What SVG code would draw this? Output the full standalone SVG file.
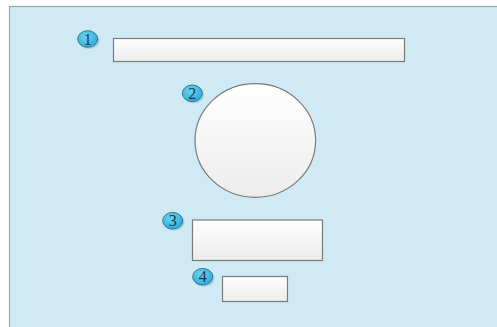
<svg xmlns="http://www.w3.org/2000/svg" width="497" height="327" viewBox="0 0 497 327">
<defs>
<linearGradient id="g" x1="0" y1="0" x2="0" y2="1">
<stop offset="0" stop-color="#ffffff"/>
<stop offset="1" stop-color="#ececec"/>
</linearGradient>
<radialGradient id="b" cx="0.4" cy="0.35" r="0.7">
<stop offset="0" stop-color="#6ad4f2"/>
<stop offset="1" stop-color="#2eaad8"/>
</radialGradient>
</defs>
<style>
.shape{fill:url(#g);stroke:#7a7a7a;stroke-width:1.2}
.badge{fill:url(#b);stroke:#2a6f8a;stroke-width:0.9}
.shadow{fill:#8fb8c8;opacity:0.6}
.num{font-family:"Liberation Serif",serif;font-size:16px;fill:#173547;text-anchor:middle}
</style>
<rect x="0" y="0" width="497" height="327" fill="#ffffff"/>
<rect x="9.5" y="6.5" width="490" height="325" fill="#cfeaf4" stroke="#9aa6ab" stroke-width="1.2"/>
<g id="connectors"/>
<g id="node1">
<rect class="shape" x="113.5" y="38.5" width="291" height="23"/>
<ellipse class="shadow" cx="89" cy="40.5" rx="10.5" ry="8.5"/>
<ellipse class="badge" cx="87.7" cy="39" rx="10" ry="8.3"/>
<text class="num" x="87.7" y="44.5">1</text>
</g>
<g id="node2">
<ellipse class="shape" cx="255.3" cy="140.5" rx="60.3" ry="56.8"/>
<ellipse class="shadow" cx="193.6" cy="94.8" rx="10.5" ry="8.5"/>
<ellipse class="badge" cx="192.3" cy="93.3" rx="10" ry="8.3"/>
<text class="num" x="192.3" y="98.8">2</text>
</g>
<g id="node3">
<rect class="shape" x="192.5" y="220" width="130" height="40.5"/>
<ellipse class="shadow" cx="174" cy="222.2" rx="10.5" ry="8.5"/>
<ellipse class="badge" cx="172.7" cy="220.7" rx="10" ry="8.3"/>
<text class="num" x="172.7" y="226.2">3</text>
</g>
<g id="node4">
<rect class="shape" x="222.5" y="276.5" width="65" height="25"/>
<ellipse class="shadow" cx="204" cy="278.2" rx="10.5" ry="8.5"/>
<ellipse class="badge" cx="202.7" cy="276.7" rx="10" ry="8.3"/>
<text class="num" x="202.7" y="282.2">4</text>
</g>
</svg>
